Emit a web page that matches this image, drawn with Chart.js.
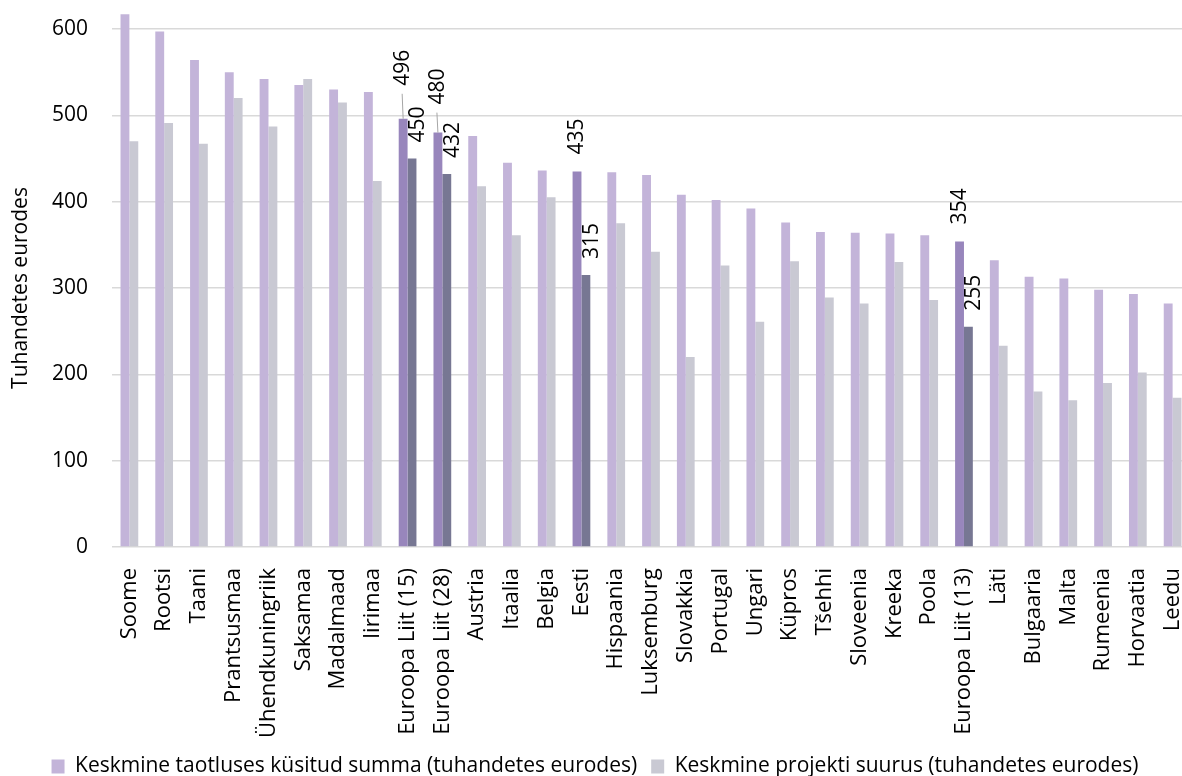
<!DOCTYPE html>
<html>
<head>
<meta charset="utf-8">
<script src="https://cdn.jsdelivr.net/npm/chart.js@4"></script>
<style>
  html, body { margin: 0; padding: 0; background: #fff; overflow: hidden; }
  #wrap { width: 1198px; height: 776px; }
</style>
</head>
<body>
<div id="wrap"><canvas id="chart" width="1198" height="776"></canvas></div>
<script>
// ── Andmed ─────────────────────────────────────────
const categories = [
    'Soome', 'Rootsi', 'Taani', 'Prantsusmaa', 'Ühendkuningriik', 'Saksamaa',
    'Madalmaad', 'Iirimaa', 'Euroopa Liit (15)', 'Euroopa Liit (28)', 'Austria',
    'Itaalia', 'Belgia', 'Eesti', 'Hispaania', 'Luksemburg', 'Slovakkia',
    'Portugal', 'Ungari', 'Küpros', 'Tšehhi', 'Sloveenia', 'Kreeka', 'Poola',
    'Euroopa Liit (13)', 'Läti', 'Bulgaaria', 'Malta', 'Rumeenia', 'Horvaatia', 'Leedu'
];
const requestedAmount = [
    617, 597, 564, 550, 542, 535, 530, 527, 496, 480, 476, 445, 436, 435, 434, 431,
    408, 402, 392, 376, 365, 364, 363, 361, 354, 332, 313, 311, 298, 293, 282
];
const projectSize = [
    470, 491, 467, 520, 487, 542, 515, 424, 450, 432, 418, 361, 405, 315, 375, 342,
    220, 326, 261, 331, 289, 282, 330, 286, 255, 233, 180, 170, 190, 202, 173
];
const yTicks = [0, 100, 200, 300, 400, 500, 600];
const highlighted = ['Euroopa Liit (15)', 'Euroopa Liit (28)', 'Eesti', 'Euroopa Liit (13)'];

const seriesNames = [
    'Keskmine taotluses küsitud summa (tuhandetes eurodes)',
    'Keskmine projekti suurus (tuhandetes eurodes)'
];

// ── Värvid ja sildi nihked ─────────────────────────
const COLORS = {
    light: ['#C3B4D9', '#C9C9D3'],
    dark: ['#9886BC', '#777793']
};
const FONT = '"Open Sans", sans-serif';
// silt tõstetakse osadel tulpadel kõrgemale (juhtjoonega)
const labelLift = { 'Euroopa Liit (15)': [16, 0], 'Euroopa Liit (28)': [11, 0] };

const isHi = (i) => highlighted.includes(categories[i]);
const colorsFor = (s) => categories.map((c, i) => isHi(i) ? COLORS.dark[s] : COLORS.light[s]);

// ── Andmesiltide plugin ────────────────────────────
const valueLabels = {
    id: 'valueLabels',
    afterDatasetsDraw(chart) {
        const ctx = chart.ctx;
        ctx.save();
        ctx.font = '21px ' + FONT;
        ctx.fillStyle = '#000';
        ctx.textAlign = 'left';
        ctx.textBaseline = 'middle';
        [0, 1].forEach((s) => {
            const meta = chart.getDatasetMeta(s);
            meta.data.forEach((bar, i) => {
                if (!isHi(i)) return;
                const val = chart.data.datasets[s].data[i];
                const lift = (labelLift[categories[i]] || [0, 0])[s];
                const gap = s === 0 ? 17 : 16;
                const x = bar.x + (s === 0 ? 0 : 6);
                const y = bar.y - gap - lift;
                if (lift > 0) {
                    ctx.strokeStyle = '#A6A6A6';
                    ctx.lineWidth = 1;
                    ctx.beginPath();
                    ctx.moveTo(bar.x, bar.y);
                    ctx.lineTo(bar.x - 1, y + 8);
                    ctx.stroke();
                }
                ctx.save();
                ctx.translate(x, y);
                ctx.rotate(-Math.PI / 2);
                ctx.fillText(String(val), 0, 0);
                ctx.restore();
            });
        });
        ctx.restore();
    }
};

new Chart(document.getElementById('chart').getContext('2d'), {
    type: 'bar',
    data: {
        labels: categories,
        datasets: [
            { label: seriesNames[0], data: requestedAmount, backgroundColor: colorsFor(0) },
            { label: seriesNames[1], data: projectSize, backgroundColor: colorsFor(1) }
        ]
    },
    options: {
        responsive: false,
        animation: false,
        layout: { padding: { top: 29, right: 8, left: 0, bottom: -11 } },
        datasets: {
            bar: { clip: false, categoryPercentage: 0.51, barPercentage: 1.0 }
        },
        scales: {
            x: {
                afterFit: (scale) => {
                    scale.height = 195;
                    scale.paddingLeft = 0;
                    scale.paddingRight = 0;
                    scale.paddingTop = 0;
                    scale.paddingBottom = 0;
                },
                grid: { display: false },
                border: { display: false },
                ticks: {
                    color: '#000',
                    font: { family: FONT, size: 22 },
                    minRotation: 90,
                    maxRotation: 90,
                    autoSkip: false,
                    padding: 13
                }
            },
            y: {
                min: 0,
                max: 600,
                afterBuildTicks: (scale) => { scale.ticks = yTicks.map(v => ({ value: v })); },
                afterFit: (scale) => {
                    scale.width = 112;
                    scale.paddingTop = 0;
                    scale.paddingBottom = 0;
                },
                grid: { color: '#D9D9D9', lineWidth: 1.5, drawTicks: false },
                border: { display: false },
                ticks: {
                    color: '#000',
                    font: { family: FONT, size: 21 },
                    padding: 24
                },
                title: {
                    display: true,
                    text: 'Tuhandetes eurodes',
                    color: '#000',
                    font: { family: FONT, size: 21 },
                    padding: { top: 8, bottom: 0 }
                }
            }
        },
        plugins: {
            legend: {
                position: 'bottom',
                labels: {
                    color: '#000',
                    font: { family: FONT, size: 21 },
                    boxWidth: 13,
                    boxHeight: 14,
                    padding: 14
                }
            },
            tooltip: { enabled: false }
        }
    },
    plugins: [valueLabels]
});
</script>
</body>
</html>
